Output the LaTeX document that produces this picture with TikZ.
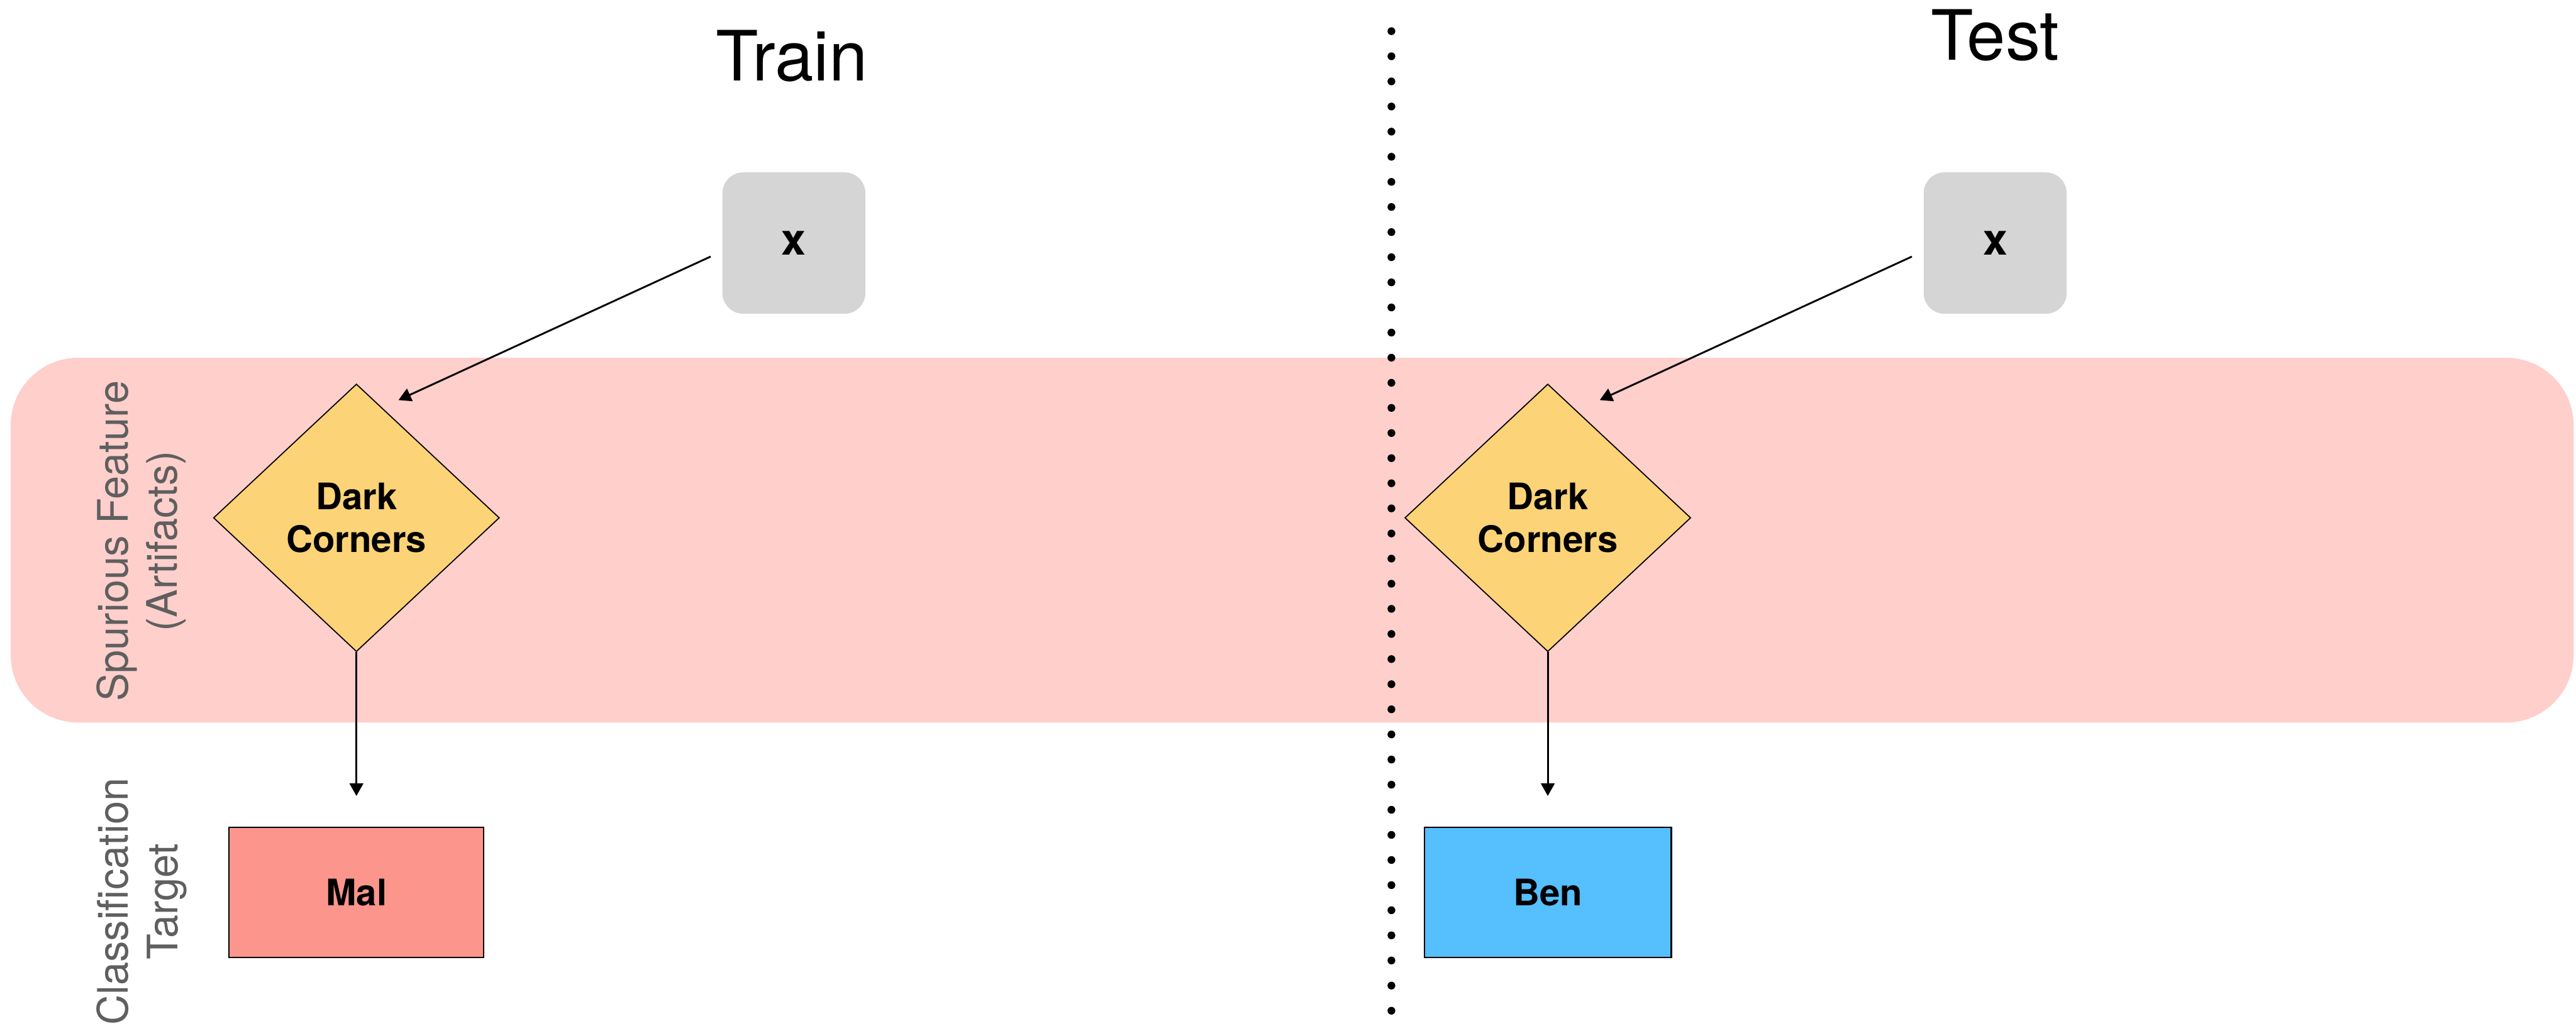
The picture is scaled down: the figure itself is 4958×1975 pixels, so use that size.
\documentclass[tikz,border=0pt]{standalone}
\usepackage{fontspec}
\setmainfont{TeX Gyre Heros}
\usetikzlibrary{shapes.geometric,arrows.meta,calc}
\definecolor{bandpink}{HTML}{FFCFCC}
\definecolor{diamondyellow}{HTML}{FDD378}
\definecolor{xgray}{HTML}{D5D5D5}
\definecolor{malred}{HTML}{FC958C}
\definecolor{benblue}{HTML}{56BFFE}
\definecolor{labelgray}{HTML}{5F5F5F}
\begin{document}
\begin{tikzpicture}[x=0.01cm,y=-0.01cm,
  title/.style={font=\fontsize{38}{40}\selectfont, anchor=base, inner sep=0},
  sidelabel/.style={font=\fontsize{23}{27}\selectfont, text=labelgray, rotate=90, align=center, inner sep=0},
  xbox/.style={fill=xgray, rounded corners=0.4cm, minimum width=2.75cm, minimum height=2.72cm, inner sep=0, font=\bfseries\fontsize{24}{28}\selectfont},
  feat/.style={diamond, draw=black, line width=0.6pt, fill=diamondyellow, minimum width=5.5cm, minimum height=5.15cm, inner sep=0, align=center, font=\bfseries\fontsize{20}{23.6}\selectfont},
  target/.style={draw=black, line width=0.8pt, minimum height=2.5cm, inner sep=0, font=\bfseries\fontsize{20}{24}\selectfont},
  arr/.style={line width=1pt, -{Triangle[width=0.26cm,length=0.24cm]}},
  dotline/.style={line width=0.15cm, line cap=round, dash pattern=on 0pt off 0.4833cm}
]
\useasboundingbox (0,0) rectangle (4958,1975);
% background band
\node[fill=bandpink, rounded corners=1.3cm, minimum width=49.3cm, minimum height=7.02cm, inner sep=0] (band) at (2487,1040) {};
% separator
\coordinate (sepTop) at (2678,60);
\coordinate (sepBot) at (2678,1946);
\draw[dotline] (sepTop) -- (sepBot);
% titles
\node[title] (train) at (1524,156) {Train};
\node[title] (test) at (3840,115) {Test};
% side labels
\node[sidelabel] (spur) at (272,1042) {Spurious Feature\\(Artifacts)};
\node[sidelabel] (cls) at (273,1736) {Classification\\Target};
% train column
\node[xbox] (x1) at (1528,468) {x};
\node[feat] (d1) at (686,997) {Dark\\Corners};
\node[target, fill=malred, minimum width=4.9cm] (m1) at (686,1718) {Mal};
% test column
\node[xbox] (x2) at (3840,468) {x};
\node[feat] (d2) at (2979,997) {Dark\\Corners};
\node[target, fill=benblue, minimum width=4.75cm] (m2) at (2979,1718) {Ben};
% connectors
\coordinate (t1) at ([shift={(-22,26)}]x1.west);
\coordinate (h1) at ([shift={(81,32)}]d1.north);
\coordinate (t2) at ([shift={(-22,26)}]x2.west);
\coordinate (h2) at ([shift={(100,32)}]d2.north);
\draw[arr] (t1) -- (h1);
\draw[arr] (t2) -- (h2);
\draw[arr, shorten >=0.59cm] (d1.south) -- (m1.north);
\draw[arr, shorten >=0.59cm] (d2.south) -- (m2.north);
\end{tikzpicture}
\end{document}
